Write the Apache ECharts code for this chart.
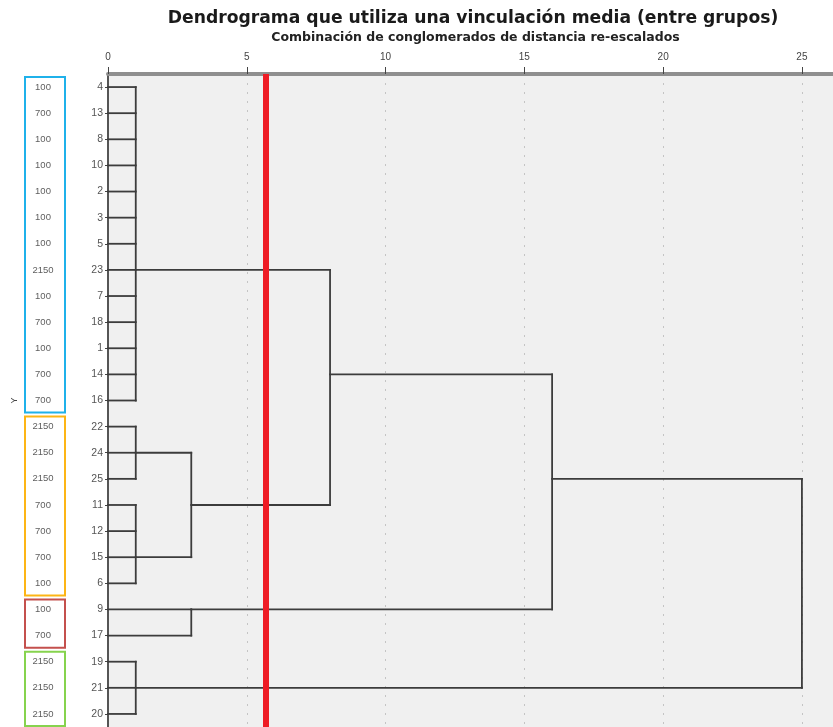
<!DOCTYPE html>
<html>
<head>
<meta charset="utf-8">
<script src="https://cdn.jsdelivr.net/npm/echarts@6/dist/echarts.min.js"></script>
<style>
  html, body { margin: 0; padding: 0; background: #fff; }
  #chart { width: 833px; height: 727px; }
</style>
</head>
<body>
<div id="chart"></div>
<script>
// Hojas en el orden del dendrograma (de arriba a abajo)
const leafIds = ['4', '13', '8', '10', '2', '3', '5', '23', '7', '18', '1', '14', '16',
                 '22', '24', '25', '11', '12', '15', '6', '9', '17', '19', '21', '20'];
// Valor de Y de cada caso
const yValues = [100, 700, 100, 100, 100, 100, 100, 2150, 100, 700, 100, 700, 700,
                 2150, 2150, 2150, 700, 700, 700, 100, 100, 700, 2150, 2150, 2150];

// Grupos marcados a la izquierda (fila inicial, fila final)
const groupRanges = [[0, 12], [13, 19], [20, 21], [22, 24]];
const groupColors = ['#1fb1ea', '#fdb515', '#c4504d', '#86d34e'];

// Fusiones: distancia re-escalada, miembros (número = hoja, 'mN' = fusión N), fila de salida
const mergeHeights = [1, 1, 1, 3, 3, 1, 8, 16, 25];
const mergeMembers = [
  [0, 1, 2, 3, 4, 5, 6, 7, 8, 9, 10, 11, 12],
  [13, 14, 15],
  [16, 17, 18, 19],
  ['m1', 'm2'],
  [20, 21],
  [22, 23, 24],
  ['m0', 'm3'],
  ['m6', 'm4'],
  ['m7', 'm5']
];
const mergeRows = [7, 14, 18, 16, 20, 23, 11, 15, 19];

// Línea de corte
const cutHeight = 5.7;
const axisMax = 26.48;

function memberInfo(m) {
  if (typeof m === 'number') return { h: 0, row: m };
  const k = +m.slice(1);
  return { h: mergeHeights[k], row: mergeRows[k] };
}

// Segmentos del dendrograma [x1, fila1, x2, fila2]
let segments = [];
mergeMembers.forEach((members, k) => {
  const h = mergeHeights[k];
  let rows = [];
  members.forEach(m => {
    const info = memberInfo(m);
    rows.push(info.row);
    if (info.h < h) segments.push([info.h, info.row, h, info.row]);
  });
  segments.push([h, Math.min(...rows), h, Math.max(...rows)]);
});

const chart = echarts.init(document.getElementById('chart'));

const option = {
  animation: false,
  title: {
    text: 'Dendrograma que utiliza una vinculación media (entre grupos)',
    left: 468,
    top: 5,
    textAlign: 'center',
    textStyle: { fontFamily: 'DejaVu Sans', fontSize: 17.2, fontWeight: 'bold', color: '#1a1a1a' }
  },
  grid: [
    { left: 108, right: -10, top: 74, bottom: 0, outerBoundsMode: 'none',
      show: true, backgroundColor: '#f0f0f0', borderWidth: 0 },
    { left: 25, width: 40, top: 74, bottom: 0, outerBoundsMode: 'none' }
  ],
  xAxis: [
    {
      type: 'value',
      gridIndex: 0,
      position: 'top',
      min: 0,
      max: axisMax,
      interval: 5,
      name: 'Combinación de conglomerados de distancia re-escalados',
      nameLocation: 'middle',
      nameGap: 30,
      nameTextStyle: { fontFamily: 'DejaVu Sans', fontSize: 12.5, fontWeight: 'bold', color: '#222' },
      axisLine: { show: true, lineStyle: { color: '#8f8f8f', width: 4 } },
      axisTick: { show: true, length: 7, lineStyle: { color: '#444' } },
      axisLabel: {
        fontFamily: 'Liberation Sans', fontSize: 10, color: '#444', margin: 12,
        formatter: v => (v % 5 === 0 ? String(v) : '')
      },
      splitLine: { show: true, lineStyle: { color: '#c4c4c4', type: [2, 7], width: 1 } }
    },
    { type: 'value', gridIndex: 1, min: 0, max: 1, show: false }
  ],
  yAxis: [
    {
      type: 'category',
      gridIndex: 0,
      data: leafIds,
      inverse: true,
      name: 'Y',
      nameLocation: 'middle',
      nameRotate: 90,
      nameGap: 89,
      nameTextStyle: { fontFamily: 'Liberation Sans', fontSize: 9, color: '#444' },
      axisLine: { show: true, lineStyle: { color: '#555', width: 2 } },
      axisTick: { show: true, length: 3, alignWithLabel: true, lineStyle: { color: '#444' } },
      axisLabel: { fontFamily: 'Liberation Sans', fontSize: 10.5, color: '#555', margin: 5 },
      splitLine: { show: false }
    },
    { type: 'category', gridIndex: 1, data: leafIds, inverse: true, show: false }
  ],
  series: [
    {
      name: 'dendrograma',
      type: 'custom',
      xAxisIndex: 0,
      yAxisIndex: 0,
      z: 2,
      encode: { x: [0, 2], y: [1, 3] },
      data: segments,
      renderItem: (params, api) => {
        const p1 = api.coord([api.value(0), api.value(1)]);
        const p2 = api.coord([api.value(2), api.value(3)]);
        return {
          type: 'line',
          shape: { x1: p1[0], y1: p1[1], x2: p2[0], y2: p2[1] },
          style: { stroke: '#3c3c3c', lineWidth: 1.8, lineCap: 'square' }
        };
      }
    },
    {
      name: 'corte',
      type: 'line',
      xAxisIndex: 0,
      yAxisIndex: 0,
      z: 5,
      data: [],
      markLine: {
        silent: true,
        symbol: ['none', 'none'],
        label: { show: false },
        lineStyle: { color: '#ee1c25', width: 6, type: 'solid' },
        data: [{ xAxis: cutHeight }]
      }
    },
    {
      name: 'grupos',
      type: 'custom',
      xAxisIndex: 1,
      yAxisIndex: 1,
      encode: { y: [0, 1] },
      data: groupRanges,
      renderItem: (params, api) => {
        const from = api.value(0), to = api.value(1);
        const a = api.coord([0, from]);
        const b = api.coord([1, to]);
        const band = api.size([0, 1])[1];
        return {
          type: 'rect',
          shape: { x: a[0], y: a[1] - band / 2 + 3, width: b[0] - a[0], height: b[1] - a[1] + band - 4 },
          style: { fill: 'none', stroke: groupColors[params.dataIndex], lineWidth: 2 }
        };
      }
    },
    {
      name: 'valores',
      type: 'scatter',
      xAxisIndex: 1,
      yAxisIndex: 1,
      symbolSize: 0,
      data: yValues.map((v, i) => [0.45, i, v]),
      label: {
        show: true,
        position: 'inside',
        formatter: p => String(p.value[2]),
        fontFamily: 'Liberation Sans',
        fontSize: 9.5,
        color: '#333'
      }
    }
  ]
};

chart.setOption(option);
</script>
</body>
</html>
